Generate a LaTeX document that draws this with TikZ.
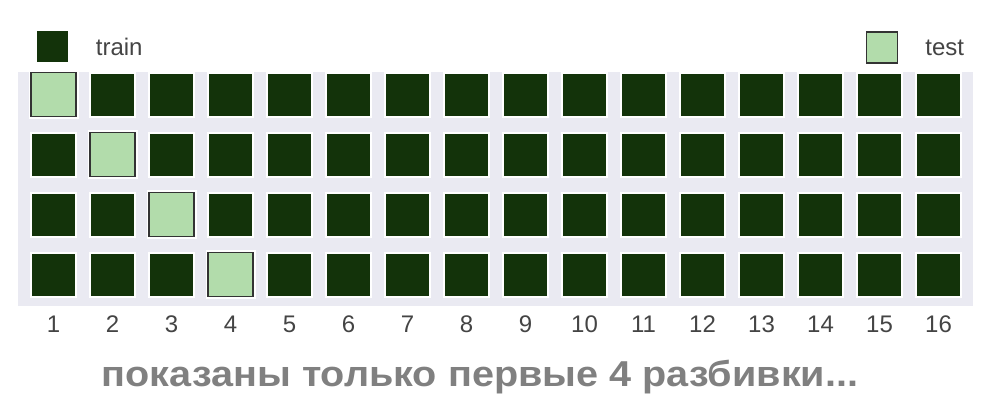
\documentclass[tikz,border=0pt]{standalone}
\usepackage{fontspec}
\setmainfont{Liberation Sans}
\usetikzlibrary{positioning}
\definecolor{trainfill}{RGB}{19, 51, 10}
\definecolor{testfill} {RGB}{178,220,171}
\definecolor{gridbg}   {RGB}{234,234,242}
\definecolor{edgegray} {RGB}{51 , 51, 51}
\definecolor{labelgray}{RGB}{68 , 68, 68}
\definecolor{notegray} {RGB}{128,128,128}

\begin{document}
\begin{tikzpicture}[
    x=1pt, y=1pt,
    cell/.style={rectangle, minimum width=45pt, minimum height=44pt, inner sep=0pt, fill=trainfill, draw=white, line width=2pt},
    testcell/.style={cell, fill=testfill, draw=edgegray, line width=1.5pt, preaction={draw=white, line width=5pt}},
    keybox/.style={rectangle, minimum width=31pt, minimum height=31pt, inner sep=0pt},
    txt/.style={inner sep=0pt, text=labelgray, font=\fontsize{24}{28}\selectfont},
    note/.style={inner sep=0pt, text=notegray, font=\fontsize{36}{40}\selectfont\bfseries}
]
    \useasboundingbox (0,0) rectangle (1000,-412);

    % --- Grid background ---
    \fill[gridbg] (18,-72) rectangle (973,-306);

    % --- Splits: one row per split, test block on the diagonal ---
    \foreach \r in {1,...,4} {
        \foreach \c in {1,...,16} {
            \ifnum\c=\r \def\kind{testcell}\else \def\kind{cell}\fi
            \node[\kind] (cell-\r-\c) at ({53.5+59*(\c-1)}, {-94.5-60*(\r-1)}) {};
        }
    }

    % --- Fold numbers ---
    \foreach \c in {1,...,16} {
        \node[txt] (num-\c) at ({53.5+59*(\c-1)}, -324) {\c};
    }

    % --- Legend ---
    \node[keybox, fill=trainfill] (key-train) at (52,-46.5) {};
    \node[txt, anchor=west] (lbl-train) [right=28pt of key-train] {train};
    \node[keybox, fill=testfill, draw=edgegray, line width=1.5pt] (key-test) at (882,-47.5) {};
    \node[txt, anchor=west] (lbl-test) [right=27pt of key-test] {test};

    % --- Note ---
    \node[note] (note) at (480,-377) {\scalebox{1.1}[1]{показаны только первые 4 разбивки...}};

\end{tikzpicture}
\end{document}
